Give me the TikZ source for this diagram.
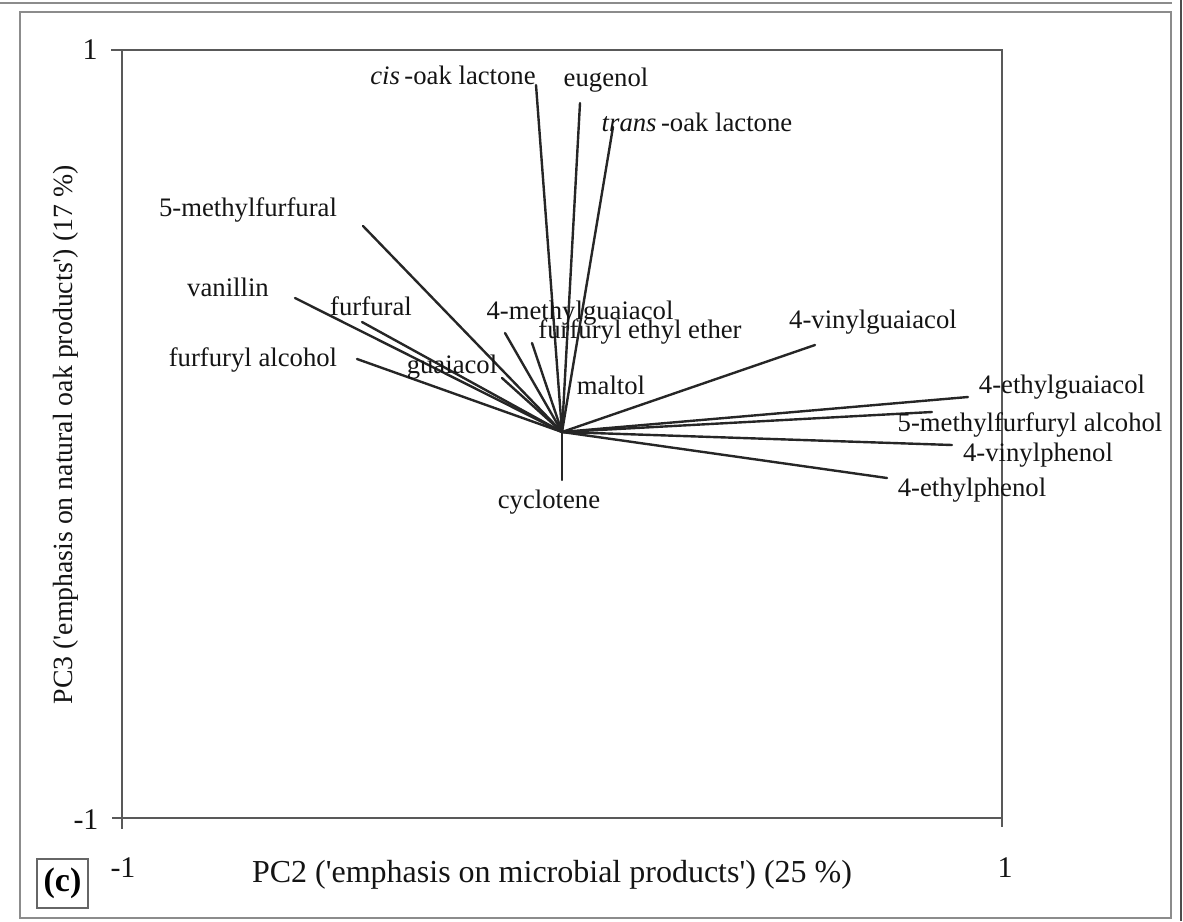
\documentclass[tikz,border=0pt]{standalone}
\usepackage{fontspec}
\setmainfont{Liberation Serif}
\begin{document}
\begin{tikzpicture}[x=1pt,y=-1pt,
  lbl/.style={inner sep=0pt, font=\fontsize{26.7}{28}\selectfont, text=black!92},
  tick/.style={inner sep=0pt, font=\fontsize{30}{32}\selectfont, text=black!92},
  vec/.style={line width=2.4pt, black!85, line cap=round},
  axisline/.style={line width=1.3pt, black!65},
  frameline/.style={line width=1.2pt, black!45}]
\useasboundingbox (0,0) rectangle (1183,921);
% panel frame
\draw[frameline] (0,3) -- (1172,3);
\draw[frameline] (20,12) rectangle (1171,918);
\draw[line width=2pt, black!70] (1181,0) -- (1181,921);
% plot box and ticks
\coordinate (tl) at (122,50);
\coordinate (tr) at (1002,50);
\coordinate (br) at (1002,818);
\coordinate (bl) at (122,818);
\draw[axisline] (tl) -- (tr) -- (br) -- (bl) -- cycle;
\draw[axisline] (tl) -- ++(-11,0);
\draw[axisline] (bl) -- ++(-10,0);
\draw[axisline] (bl) -- ++(0,11);
\draw[axisline] (br) -- ++(0,9);
% tick labels
\node[tick] (y1) at (90,50) {1};
\node[tick] (ym1) at (86,820) {-1};
\node[tick] (xm1) at (123,868) {-1};
\node[tick] (x1) at (1005,868) {1};
% axis titles
\node[inner sep=0pt, font=\fontsize{32}{34}\selectfont, text=black!92] (xlab) at (552,875)
  {PC2 (\textquotesingle emphasis on microbial products\textquotesingle) (25~\%)};
\node[inner sep=0pt, font=\fontsize{27.8}{30}\selectfont, text=black!92, rotate=90] (ylab) at (66,435)
  {PC3 (\textquotesingle emphasis on natural oak products\textquotesingle) (17~\%)};
\node[draw=black!60, line width=1.2pt, minimum width=51pt, minimum height=49pt, inner sep=0pt,
      font=\fontsize{34}{36}\selectfont\bfseries] (panel) at (62.5,883.5) {(c)};
% loading vectors
\coordinate (o) at (562,432);
\coordinate (cis) at (536,85);
\coordinate (eug) at (580,103);
\coordinate (trans) at (613,127);
\coordinate (mff) at (363,226);
\coordinate (van) at (295,298);
\coordinate (fur) at (362,322);
\coordinate (mgu) at (505,333);
\coordinate (fee) at (532,343);
\coordinate (falc) at (357,359);
\coordinate (gua) at (502,378);
\coordinate (vgu) at (815,345);
\coordinate (egu) at (968,397);
\coordinate (mfa) at (932,412);
\coordinate (vph) at (952,445);
\coordinate (eph) at (887,478);
\coordinate (cyc) at (562,480);
\foreach \p in {cis,eug,trans,mff,van,fur,mgu,fee,falc,gua,vgu,egu,mfa,vph,eph,cyc}
  \draw[vec] (o) -- (\p);
% compound labels
\node[lbl] (lcis) at (453,75) {\textit{cis}\,-oak lactone};
\node[lbl] (leug) at (606,80) {eugenol};
\node[lbl] (ltrans) at (697,122) {\textit{trans}\,-oak lactone};
\node[lbl] (lmff) at (248,210) {5-methylfurfural};
\node[lbl] (lvan) at (228,287) {vanillin};
\node[lbl] (lfur) at (371,306) {furfural};
\node[lbl] (lmgu) at (580,313) {4-methylguaiacol};
\node[lbl] (lfee) at (640,332) {furfuryl ethyl ether};
\node[lbl] (lfalc) at (253,360) {furfuryl alcohol};
\node[lbl] (lgua) at (452,367) {guaiacol};
\node[lbl] (lmal) at (611,385) {maltol};
\node[lbl] (lvgu) at (873,322) {4-vinylguaiacol};
\node[lbl] (legu) at (1062,387) {4-ethylguaiacol};
\node[lbl] (lmfa) at (1030,425) {5-methylfurfuryl alcohol};
\node[lbl] (lvph) at (1038,455) {4-vinylphenol};
\node[lbl] (leph) at (972,490) {4-ethylphenol};
\node[lbl] (lcyc) at (549,502) {cyclotene};
\end{tikzpicture}
\end{document}
